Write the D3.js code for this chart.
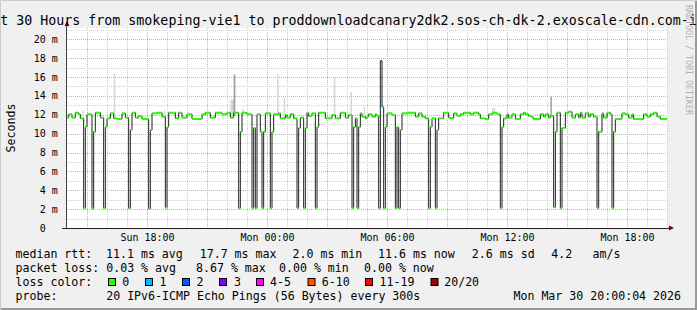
<!DOCTYPE html>
<html>
<head>
<meta charset="utf-8">
<script src="https://cdn.jsdelivr.net/npm/d3@7"></script>
<style>
  body { margin: 0; background: #f0f0f0; }
  text { font-family: "DejaVu Sans Mono", monospace; white-space: pre; }
</style>
</head>
<body>
<svg id="chart" width="697" height="310"></svg>
<script>
// ---- data ----
const startTime = new Date(2026, 2, 29, 14, 0);   // Sun 14:00, graph covers 30 hours
const spanMinutes = 1800;
const yMax = 21.2;                                 // ms
const yTicks = [0, 2, 4, 6, 8, 10, 12, 14, 16, 18, 20];

// median rtt as steps: [minute from start, ms]
const medianSteps = [
  [0, 11.70], [5, 12.05], [15, 11.70], [25, 12.22], [35, 12.05], [40, 11.62], [50, 2.10], [55, 10.70],
  [60, 12.05], [75, 2.05], [80, 10.20], [85, 12.22], [100, 11.70], [110, 2.10], [115, 10.70], [120, 11.62],
  [130, 12.15], [140, 11.62], [150, 11.55], [165, 12.15], [175, 11.70], [185, 2.10], [190, 10.40], [195, 12.22],
  [205, 11.70], [215, 11.87], [225, 11.55], [245, 2.05], [250, 10.40], [255, 12.15], [270, 12.22], [285, 11.80],
  [295, 2.15], [300, 10.70], [305, 12.22], [325, 11.62], [335, 12.22], [345, 11.70], [360, 12.05], [375, 11.55],
  [405, 12.05], [415, 12.22], [430, 11.70], [445, 12.22], [465, 12.05], [480, 12.22], [490, 11.70], [500, 12.22],
  [515, 2.10], [520, 10.20], [525, 12.22], [540, 12.05], [555, 2.10], [560, 10.60], [565, 2.10], [570, 12.05],
  [580, 10.20], [585, 2.10], [590, 10.20], [595, 12.15], [610, 2.10], [615, 10.20], [620, 12.05], [635, 12.15],
  [640, 11.62], [655, 11.98], [660, 11.70], [670, 12.05], [680, 11.62], [690, 2.10], [695, 10.60], [700, 11.70],
  [710, 2.10], [715, 10.60], [720, 12.22], [725, 11.87], [735, 12.15], [745, 2.10], [750, 10.70], [755, 12.22],
  [775, 11.62], [795, 11.98], [805, 11.62], [820, 12.22], [835, 11.70], [845, 11.98], [855, 2.10], [860, 10.70],
  [865, 11.62], [870, 2.10], [875, 10.70], [880, 12.15], [885, 11.80], [895, 11.62], [900, 11.80], [905, 12.05],
  [915, 11.80], [925, 12.05], [930, 11.87], [935, 2.10], [940, 17.70], [945, 12.80], [950, 2.10], [955, 10.70],
  [960, 12.15], [975, 11.98], [985, 2.10], [990, 10.70], [995, 2.10], [1000, 10.40], [1005, 12.15], [1020, 12.22],
  [1045, 11.80], [1055, 12.15], [1065, 11.80], [1075, 11.62], [1085, 2.10], [1090, 10.70], [1095, 11.62], [1105, 2.10],
  [1110, 10.40], [1115, 11.62], [1130, 12.22], [1145, 11.70], [1150, 11.62], [1160, 12.15], [1170, 11.87], [1180, 12.05],
  [1190, 12.22], [1210, 12.05], [1220, 12.22], [1235, 12.05], [1240, 11.62], [1255, 11.55], [1265, 12.05], [1275, 12.22],
  [1290, 12.05], [1300, 2.10], [1305, 10.70], [1310, 11.62], [1320, 12.05], [1325, 11.70], [1335, 12.05], [1345, 11.55],
  [1360, 12.05], [1370, 12.22], [1375, 12.05], [1385, 11.87], [1395, 11.70], [1400, 11.55], [1420, 12.05], [1430, 11.80],
  [1435, 12.05], [1445, 11.70], [1450, 11.87], [1460, 2.20], [1465, 10.20], [1470, 12.22], [1480, 2.10], [1485, 10.60],
  [1495, 12.22], [1505, 12.33], [1515, 11.70], [1525, 12.05], [1535, 11.70], [1540, 12.22], [1545, 11.70], [1555, 12.15],
  [1565, 11.80], [1570, 12.05], [1580, 11.80], [1590, 2.10], [1595, 10.20], [1605, 12.15], [1610, 11.70], [1620, 12.22],
  [1630, 12.05], [1635, 2.10], [1640, 10.20], [1645, 11.55], [1665, 12.15], [1675, 12.05], [1685, 11.70], [1695, 12.05],
  [1700, 11.55], [1730, 12.05], [1740, 11.80], [1750, 12.05], [1760, 12.22], [1770, 11.80], [1780, 11.55]
];
// steps with packet loss (minute -> loss colour index), all others are 0
const lossSteps = [[940, 2], [945, 1]];
// smoke spikes: [minute, low ms, high ms, grey]
const smokeSpikes = [
  [45, 11.9, 12.45, "#dcdcdc"], [140, 11.8, 16.4, "#d8d8d8"], [290, 11.9, 12.45, "#dcdcdc"],
  [490, 11.8, 13.6, "#d8d8d8"], [495, 11.8, 13.6, "#d0d0d0"], [500, 11.9, 16.25, "#9a9a9a"],
  [525, 11.9, 12.6, "#dcdcdc"], [630, 11.9, 16.3, "#d8d8d8"], [650, 11.9, 13.8, "#d8d8d8"],
  [800, 11.9, 16.0, "#d8d8d8"], [850, 11.9, 14.4, "#d8d8d8"], [890, 11.8, 12.85, "#dcdcdc"],
  [1275, 11.9, 12.75, "#dcdcdc"], [1280, 11.9, 12.75, "#dcdcdc"], [1450, 11.9, 13.9, "#a8a8a8"],
  [1560, 11.8, 12.4, "#dcdcdc"]
];

const lossColors = ["#26ff00", "#00b8ff", "#0059ff", "#7e00ff", "#ff00ff", "#ff5500", "#ff0000", "#a10000"];
const lossLabels = ["0", "1", "2", "3", "4-5", "6-10", "11-19", "20/20"];
const lossBoxX = [108.5, 145.5, 182.5, 219.5, 256.5, 308, 365.5, 431];
const lossLabelX = [122.3, 159.5, 196.5, 234, 270, 321.8, 379.5, 444.2];

const titleText = "Last 30 Hours from smokeping-vie1 to proddownloadcanary2dk2.sos-ch-dk-2.exoscale-cdn.com-ipv6";
const legendRows = [
  { y: 257.7, items: [["median rtt:", 15.5], ["11.1 ms avg", 106], ["17.7 ms max", 199.7], ["2.0 ms min", 292.5],
                      ["11.6 ms now", 378], ["2.6 ms sd", 471.8], ["4.2", 551.2], ["am/s", 592.5]] },
  { y: 271.7, items: [["packet loss:", 15.5], ["0.03 % avg", 106.2], ["8.67 % max", 196], ["0.00 % min", 279],
                      ["0.00 % now", 364]] },
  { y: 285.7, items: [["loss color:", 15.5]] },
  { y: 299.7, items: [["probe:", 15.5], ["20 IPv6-ICMP Echo Pings (56 Bytes) every 300s", 106.2]] }
];
const stampText = "Mon Mar 30 20:00:04 2026";

// ---- drawing ----
const svg = d3.select("#chart");
const W = 697, H = 310;
const plot = { left: 67, right: 667, top: 28, bottom: 228 };

const tAt = m => d3.timeMinute.offset(startTime, m);
const x = d3.scaleTime().domain([startTime, tAt(spanMinutes)]).range([plot.left, plot.right]);
const y = d3.scaleLinear().domain([0, yMax]).range([plot.bottom, plot.top]);

// background + bevel
svg.append("rect").attr("width", W).attr("height", H).attr("fill", "#f0f0f0");
svg.append("path").attr("d", `M0.5,${H} V0.5 H${W}`).attr("fill", "none").attr("stroke", "#cbcbcb");
svg.append("path").attr("d", `M1,${H - 1} H${W - 1} V1`).attr("fill", "none").attr("stroke", "#999").attr("stroke-width", 2);

svg.append("rect").attr("x", plot.left).attr("y", plot.top)
  .attr("width", plot.right - plot.left).attr("height", plot.bottom - plot.top).attr("fill", "#fff");

// grid
const grid = svg.append("g").attr("stroke-dasharray", "1,1").attr("shape-rendering", "crispEdges");
const hours = d3.timeHour.range(startTime, tAt(spanMinutes + 1));
hours.forEach(t => {
  if (+t === +startTime) return;
  const major = t.getHours() % 3 === 0;
  grid.append("line").attr("x1", x(t) + 0.5).attr("x2", x(t) + 0.5)
    .attr("y1", plot.top).attr("y2", plot.bottom)
    .attr("stroke", major ? "#eea3a3" : "#cfcfcf");
});
d3.range(1, 22).forEach(v => {
  const major = v % 2 === 0;
  grid.append("line").attr("x1", plot.left).attr("x2", plot.right)
    .attr("y1", Math.round(y(v)) + 0.5).attr("y2", Math.round(y(v)) + 0.5)
    .attr("stroke", major ? "#eea3a3" : "#cfcfcf");
});

// smoke
svg.append("g").selectAll("rect").data(smokeSpikes).join("rect")
  .attr("x", d => x(tAt(d[0]))).attr("width", d => x(tAt(d[0] + 5)) - x(tAt(d[0])))
  .attr("y", d => y(d[2])).attr("height", d => y(d[1]) - y(d[2]))
  .attr("fill", d => d[3]);

// median line (black), then loss-coloured bands on each step
const stepPts = medianSteps.concat([[spanMinutes, medianSteps[medianSteps.length - 1][1]]]);
const line = d3.line().x(d => x(tAt(d[0]))).y(d => y(d[1])).curve(d3.curveStepAfter);
svg.append("path").datum(stepPts).attr("d", line)
  .attr("fill", "none").attr("stroke", "#202020").attr("stroke-width", 1);

const lossAt = new Map(lossSteps);
svg.append("g").selectAll("rect").data(medianSteps).join("rect")
  .attr("x", d => x(tAt(d[0])))
  .attr("width", (d, i) => x(tAt(stepPts[i + 1][0])) - x(tAt(d[0])))
  .attr("y", d => y(d[1]) - 1).attr("height", 2)
  .attr("fill", d => lossColors[lossAt.get(d[0]) || 0]);

// axes
svg.append("line").attr("x1", plot.left - 0.5).attr("x2", plot.left - 0.5).attr("y1", plot.bottom).attr("y2", 22)
  .attr("stroke", "#404040");
svg.append("line").attr("x1", plot.left - 5).attr("x2", plot.right + 3).attr("y1", plot.bottom + 0.5).attr("y2", plot.bottom + 0.5)
  .attr("stroke", "#202020");
svg.append("path").attr("d", `M64.5,26 L69.5,26 L67,21 Z`).attr("fill", "#7f0000");
svg.append("path").attr("d", `M669,225.5 L669,230.5 L674,228 Z`).attr("fill", "#7f0000");

// y tick labels
svg.append("g").selectAll("text").data(yTicks).join("text")
  .attr("x", 57.8).attr("y", d => y(d) + 3.5).attr("text-anchor", "end")
  .attr("font-size", 10).attr("fill", "#000")
  .text(d => d === 0 ? "0  " : d + " m");

// x tick labels
const xTicks = x.ticks(d3.timeHour.every(6));
svg.append("g").selectAll("text").data(xTicks).join("text")
  .attr("x", d => x(d) + 0.5).attr("y", 241.3).attr("text-anchor", "middle")
  .attr("font-size", 10).text(d => d3.timeFormat("%a %H:%M")(d));

// y axis title
svg.append("text").attr("transform", "translate(15,128) rotate(-90)")
  .attr("text-anchor", "middle").attr("font-size", 11.6).text("Seconds");

// title (wider than the image, as in the original)
svg.append("text").attr("x", 348.5).attr("y", 24.5).attr("text-anchor", "middle")
  .attr("font-size", 13.3).text(titleText);

// watermark
svg.append("text").attr("transform", "translate(686,5) rotate(90)")
  .attr("font-size", 8.3).attr("fill", "#b0b0b0").text("RRDTOOL / TOBI OETIKER");

// legend
const lg = svg.append("g").attr("font-size", 11.6);
legendRows.forEach(r => {
  r.items.forEach(it => lg.append("text").attr("x", it[1]).attr("y", r.y).text(it[0]));
});
lossColors.forEach((c, i) => {
  lg.append("rect").attr("x", lossBoxX[i]).attr("y", 278.5).attr("width", 7).attr("height", 7)
    .attr("fill", c).attr("stroke", "#000");
  lg.append("text").attr("x", lossLabelX[i]).attr("y", 285.7).text(lossLabels[i]);
});
lg.append("text").attr("x", 681).attr("y", 299.7).attr("text-anchor", "end").text(stampText);
</script>
</body>
</html>
